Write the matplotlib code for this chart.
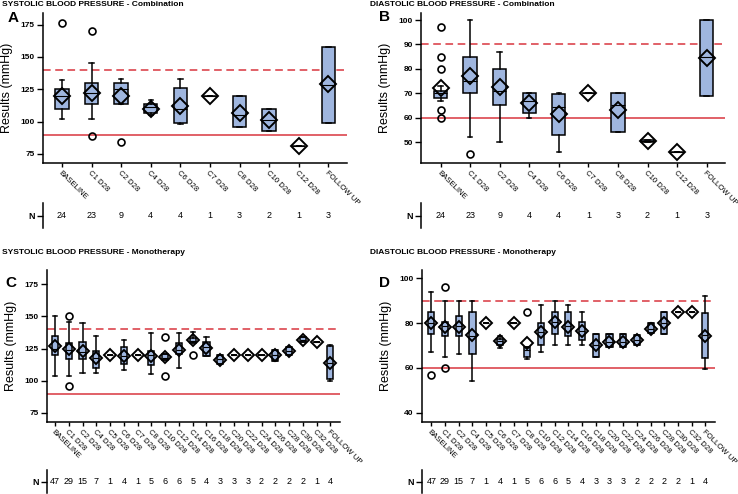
import matplotlib
matplotlib.use("Agg")
import matplotlib.pyplot as plt

plt.rcParams["font.family"] = ["Liberation Sans", "DejaVu Sans"]

# categories and counts
cats_comb = ["BASELINE", "C1 D28", "C2 D28", "C4 D28", "C6 D28", "C7 D28",
             "C8 D28", "C10 D28", "C12 D28", "FOLLOW UP"]
n_comb = [24, 23, 9, 4, 4, 1, 3, 2, 1, 3]

cats_mono = ["BASELINE", "C1 D28", "C2 D28", "C4 D28", "C5 D28", "C6 D28",
             "C7 D28", "C8 D28", "C10 D28", "C12 D28", "C14 D28", "C16 D28",
             "C18 D28", "C20 D28", "C22 D28", "C24 D28", "C26 D28", "C28 D28",
             "C30 D28", "C32 D28", "FOLLOW UP"]
n_mono = [47, 29, 15, 7, 1, 4, 1, 5, 6, 6, 5, 4, 3, 3, 3, 2, 2, 2, 2, 1, 4]

# A: systolic, combination
a_lo = [102, 102, 114, 105, 98, 120, 96, 93, 81, 99]
a_q1 = [110, 114, 114, 107, 99, 120, 96, 93, 81, 99]
a_med = [120, 122, 125, 111, 110, 120, 105, 101, 81, 128]
a_q3 = [125, 130, 130, 114, 126, 120, 120, 110, 81, 158]
a_hi = [132, 145, 133, 117, 133, 120, 120, 110, 81, 158]
a_mean = [120, 122, 120, 110, 112, 120, 107, 101, 81, 129]
a_fliers = [[176], [170, 89], [84], [], [], [], [], [], [], []]

# B: diastolic, combination
b_lo = [67, 52, 50, 60, 46, 70, 54, 50, 46, 69]
b_q1 = [68, 70, 65, 62, 53, 70, 54, 50, 46, 69]
b_med = [70, 75, 71, 67, 64.5, 70, 65, 50.5, 46, 85]
b_q3 = [71, 85, 80, 70, 69.5, 70, 70, 51, 46, 100]
b_hi = [73, 100, 87, 70, 70, 70, 70, 51, 46, 100]
b_mean = [72, 77, 72.5, 66, 61.5, 70, 63, 50.5, 46, 84.5]
b_fliers = [[97, 85, 80, 63, 60], [45], [], [], [], [], [], [], [], []]

# C: systolic, monotherapy
c_lo = [104, 104, 106, 106, 120, 108, 120, 105, 116, 110, 130, 119, 113,
        120, 120, 120, 115, 120, 130, 130, 100]
c_q1 = [120, 117, 117, 110, 120, 113, 120, 112, 116, 121, 129, 119, 113,
        120, 120, 120, 115, 120, 130, 130, 101]
c_med = [125, 124, 122, 118, 120, 119, 120, 120, 118, 124, 131, 126, 117,
         120, 120, 120, 120, 123, 132, 130, 114]
c_q3 = [135, 129, 130, 123, 120, 126, 120, 123, 121, 129, 133, 130, 120,
        120, 120, 120, 124, 126, 134, 130, 127]
c_hi = [150, 146, 145, 135, 120, 132, 120, 137, 121, 137, 138, 134, 120,
        120, 120, 120, 124, 126, 134, 130, 128]
c_mean = [127, 124.5, 123, 118, 120, 119, 120, 119, 118.5, 124, 131.5,
          125.5, 116.5, 120, 120, 120, 120, 123, 132, 130, 114]
c_fliers = [[], [150, 96], [], [], [], [], [], [], [134, 104], [], [120],
            [], [], [], [], [], [], [], [], [], []]

# D: diastolic, monotherapy
d_lo = [67, 65, 66, 54, 80, 69, 80, 64, 67, 70, 70, 70, 65, 69.5, 69.5,
        70, 75.4, 75, 85, 85, 59.5]
d_q1 = [75, 74, 74, 66, 80, 70, 80, 65, 70, 75, 74, 72.5, 65, 69.5, 69.5,
        70, 75.4, 75, 85, 85, 64.5]
d_med = [80, 78.5, 78.5, 74, 80, 72, 80, 68, 76, 80.5, 78.5, 76.5, 70,
         71.7, 71.7, 72.4, 77.3, 80, 85, 85, 74.5]
d_q3 = [85, 80.5, 83, 85, 80, 73, 80, 69.5, 80, 85, 85, 80.5, 75, 75, 75,
        74.5, 80, 85, 85, 85, 84.5]
d_hi = [94, 90, 90, 90, 80, 74, 80, 69.5, 88, 90, 88, 85, 75, 75, 75,
        74.5, 80, 85, 85, 85, 92]
d_mean = [80, 78.4, 78.4, 74.5, 80, 72, 80, 71, 76, 80.5, 78.4, 76.5, 70,
          71.7, 71.7, 72.4, 77.3, 80, 85, 85, 74.4]
d_fliers = [[57], [96, 60], [], [], [], [], [], [85], [], [], [], [], [],
            [], [], [], [], [], [], [], []]

W, H = 738, 494
BOX = "#9fb6df"
RED = "#d9363e"

fig = plt.figure(figsize=(W / 100, H / 100), dpi=100)


def px(x0, y0, x1, y1):
    """Figure rect from pixel box (top-left origin)."""
    return [x0 / W, 1 - y1 / H, (x1 - x0) / W, (y1 - y0) / H]


def panel(rect, nrect, cats, ns, lo, q1, med, q3, hi, mean, fliers,
          xlim, ylim, yticks, ref, title, letter, tpos, lpos, dsize, capw):
    ax = fig.add_axes(px(*rect))
    stats = []
    for i in range(len(cats)):
        stats.append(dict(whislo=lo[i], q1=q1[i], med=med[i], q3=q3[i],
                          whishi=hi[i], mean=mean[i], fliers=fliers[i]))
    ax.bxp(stats, positions=range(len(cats)), widths=0.45, patch_artist=True,
           showmeans=True, capwidths=capw,
           boxprops=dict(facecolor=BOX, edgecolor="black", linewidth=1.1),
           medianprops=dict(color="black", linewidth=0.8),
           whiskerprops=dict(color="black", linewidth=1.1),
           capprops=dict(color="black", linewidth=1.1),
           meanprops=dict(marker="D", markerfacecolor="none",
                          markeredgecolor="black", markersize=dsize,
                          markeredgewidth=1.4),
           flierprops=dict(marker="o", markerfacecolor="none",
                           markeredgecolor="black", markersize=5,
                           markeredgewidth=1.2))
    ax.axhline(ref[0], color=RED, lw=1.1, ls=(0, (5, 3)), zorder=0)
    ax.axhline(ref[1], color=RED, lw=1.1, zorder=0)
    ax.set_xlim(*xlim)
    ax.set_ylim(*ylim)
    ax.set_yticks(yticks)
    ax.set_xticks(range(len(cats)))
    ax.set_xticklabels(cats, rotation=-45, ha="left", va="top",
                       rotation_mode="anchor", fontsize=5.6)
    for s in ("top", "right"):
        ax.spines[s].set_visible(False)
    for s in ("left", "bottom"):
        ax.spines[s].set_linewidth(1.1)
    ax.tick_params(axis="y", labelsize=6, length=4, width=1, pad=2)
    ax.tick_params(axis="x", length=3, width=1, pad=2)
    for t in ax.get_yticklabels():
        t.set_fontweight("bold")
    ax.set_ylabel("Results (mmHg)", fontsize=9, labelpad=5)

    nax = fig.add_axes(px(*nrect))
    nax.set_xlim(*xlim)
    nax.set_ylim(0, 1)
    for s in ("top", "right", "bottom"):
        nax.spines[s].set_visible(False)
    nax.spines["left"].set_linewidth(1.1)
    nax.set_xticks([])
    nax.set_yticks([0.5])
    nax.set_yticklabels(["N"], fontsize=6.5, fontweight="bold")
    nax.tick_params(axis="y", length=4, width=1, pad=2)
    nax.patch.set_visible(False)
    for i, n in enumerate(ns):
        nax.text(i, 0.5, str(n), ha="center", va="center", fontsize=6.5)

    fig.text(tpos[0] / W, 1 - tpos[1] / H, title, ha="left", va="center",
             fontsize=6, fontweight="bold")
    fig.text(lpos[0] / W, 1 - lpos[1] / H, letter, ha="center", va="center",
             fontsize=11, fontweight="bold")
    return ax


panel((43, 13, 347, 163), (43, 203, 347, 228), cats_comb, n_comb,
      a_lo, a_q1, a_med, a_q3, a_hi, a_mean, a_fliers,
      (-0.64, 9.63), (68, 184), [75, 100, 125, 150, 175], (140, 90),
      "SYSTOLIC BLOOD PRESSURE - Combination", "A", (2, 4), (13, 18), 8.5, 0.15)

panel((421, 13, 725, 163), (421, 203, 725, 228), cats_comb, n_comb,
      b_lo, b_q1, b_med, b_q3, b_hi, b_mean, b_fliers,
      (-0.66, 9.62), (41.4, 102.9), [50, 60, 70, 80, 90, 100], (90, 60),
      "DIASTOLIC BLOOD PRESSURE - Combination", "B", (370, 4), (385, 17), 8.5, 0.15)

panel((47, 270, 340, 422), (47, 470, 340, 493), cats_mono, n_mono,
      c_lo, c_q1, c_med, c_q3, c_hi, c_mean, c_fliers,
      (-0.58, 20.7), (68, 186), [75, 100, 125, 150, 175], (140, 90),
      "SYSTOLIC BLOOD PRESSURE - Monotherapy", "C", (2, 252), (11, 283), 6.5, 0.3)

panel((422, 270, 715, 422), (422, 470, 715, 493), cats_mono, n_mono,
      d_lo, d_q1, d_med, d_q3, d_hi, d_mean, d_fliers,
      (-0.68, 20.7), (35.8, 103.7), [40, 60, 80, 100], (90, 60),
      "DIASTOLIC BLOOD PRESSURE - Monotherapy", "D", (370, 252), (385, 283), 6.5, 0.3)

fig.savefig("out.png", dpi=100)
